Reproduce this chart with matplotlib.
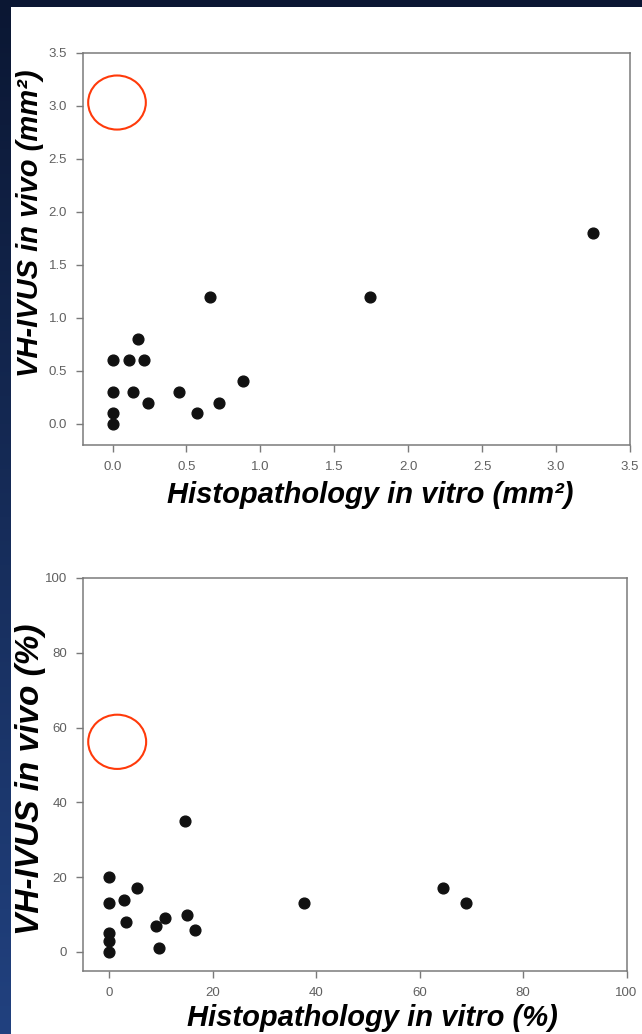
import matplotlib.pyplot as plt
import numpy as np
from matplotlib.patches import Ellipse
from matplotlib.colors import LinearSegmentedColormap

# area data (mm^2)
area_histo = [0.0, 0.0, 0.0, 0.0, 0.11, 0.17, 0.21, 0.14, 0.24, 0.45, 0.57, 0.66, 0.72, 0.88, 1.74, 3.25]
area_vh = [0.0, 0.1, 0.3, 0.6, 0.6, 0.8, 0.6, 0.3, 0.2, 0.3, 0.1, 1.2, 0.2, 0.4, 1.2, 1.8]

# percent data (%)
pct_histo = [0, 0, 0, 0, 0, 2.8, 3.3, 5.3, 9.1, 9.6, 10.7, 14.6, 15.1, 16.5, 37.6, 64.6, 68.9]
pct_vh = [20, 13, 5, 3, 0, 14, 8, 17, 7, 1, 9, 35, 10, 6, 13, 17, 13]

area_ticks = [0.0, 0.5, 1.0, 1.5, 2.0, 2.5, 3.0, 3.5]
pct_ticks = [0, 20, 40, 60, 80, 100]

NAVY = "#0b1733"
BLUE = "#21417f"
TICK_GRAY = "#606060"
SPINE_GRAY = "#7a7a7a"
RED = "#ff3a0a"

plt.rcParams["font.family"] = ["Liberation Sans", "DejaVu Sans"]

fig = plt.figure(figsize=(6.42, 10.34), dpi=100, facecolor="white")

# dark band on top and blue gradient strip on the left
top_band = fig.add_axes([0, 1 - 7 / 1034, 1, 7 / 1034], zorder=-10)
top_band.axis("off")
top_band.add_patch(plt.Rectangle((0, 0), 1, 1, transform=top_band.transAxes, color=NAVY))
strip = fig.add_axes([0, 0, 11 / 642, 1], zorder=-10)
grad = np.linspace(0, 1, 256).reshape(-1, 1)
cmap = LinearSegmentedColormap.from_list("strip", [BLUE, NAVY])
strip.imshow(grad, aspect="auto", cmap=cmap, origin="lower")
strip.axis("off")


def style(ax):
    ax.set_facecolor("white")
    for s in ax.spines.values():
        s.set_color(SPINE_GRAY)
        s.set_linewidth(1.1)
    ax.tick_params(direction="out", length=5, width=1, color=SPINE_GRAY,
                   labelcolor=TICK_GRAY, labelsize=9.5, pad=6.5)


label_font = dict(fontweight="bold", fontstyle="italic", color="black")

# top: area
ax1 = fig.add_axes([83 / 642, 1 - 445 / 1034, 547 / 642, 392.3 / 1034])
style(ax1)
ax1.scatter(area_histo, area_vh, s=60, color="#111111", zorder=3)
ax1.set_xlim(-0.2, 3.5)
ax1.set_ylim(-0.2, 3.5)
ax1.set_xticks(area_ticks)
ax1.set_yticks(area_ticks)
ax1.set_xticklabels(["%.1f" % t for t in area_ticks])
ax1.set_yticklabels(["%.1f" % t for t in area_ticks])
ax1.set_xlabel("Histopathology in vitro (mm²)", va="center", fontsize=21, **label_font)
ax1.set_ylabel("VH-IVUS in vivo (mm²)", va="center", fontsize=21, **label_font)
ax1.xaxis.set_label_coords(0.525, -0.127)
ax1.yaxis.set_label_coords(-0.097, 0.566)
ax1.add_patch(Ellipse((0.03, 3.03), 0.39, 0.51, fill=False, edgecolor=RED, linewidth=1.5, zorder=4))

# bottom: percent
ax2 = fig.add_axes([83.3 / 642, 1 - 970.7 / 1034, 543.2 / 642, 392.7 / 1034])
style(ax2)
ax2.scatter(pct_histo, pct_vh, s=60, color="#111111", zorder=3)
ax2.set_xlim(-5, 100)
ax2.set_ylim(-5, 100)
ax2.set_xticks(pct_ticks)
ax2.set_yticks(pct_ticks)
ax2.set_xlabel("Histopathology in vitro (%)", va="center", fontsize=21, **label_font)
ax2.set_ylabel("VH-IVUS in vivo (%)", va="center", fontsize=24, **label_font)
ax2.xaxis.set_label_coords(0.533, -0.12)
ax2.yaxis.set_label_coords(-0.097, 0.488)
ax2.add_patch(Ellipse((1.55, 56.2), 11.2, 14.5, fill=False, edgecolor=RED, linewidth=1.5, zorder=4))

fig.savefig("out.png", dpi=100)
